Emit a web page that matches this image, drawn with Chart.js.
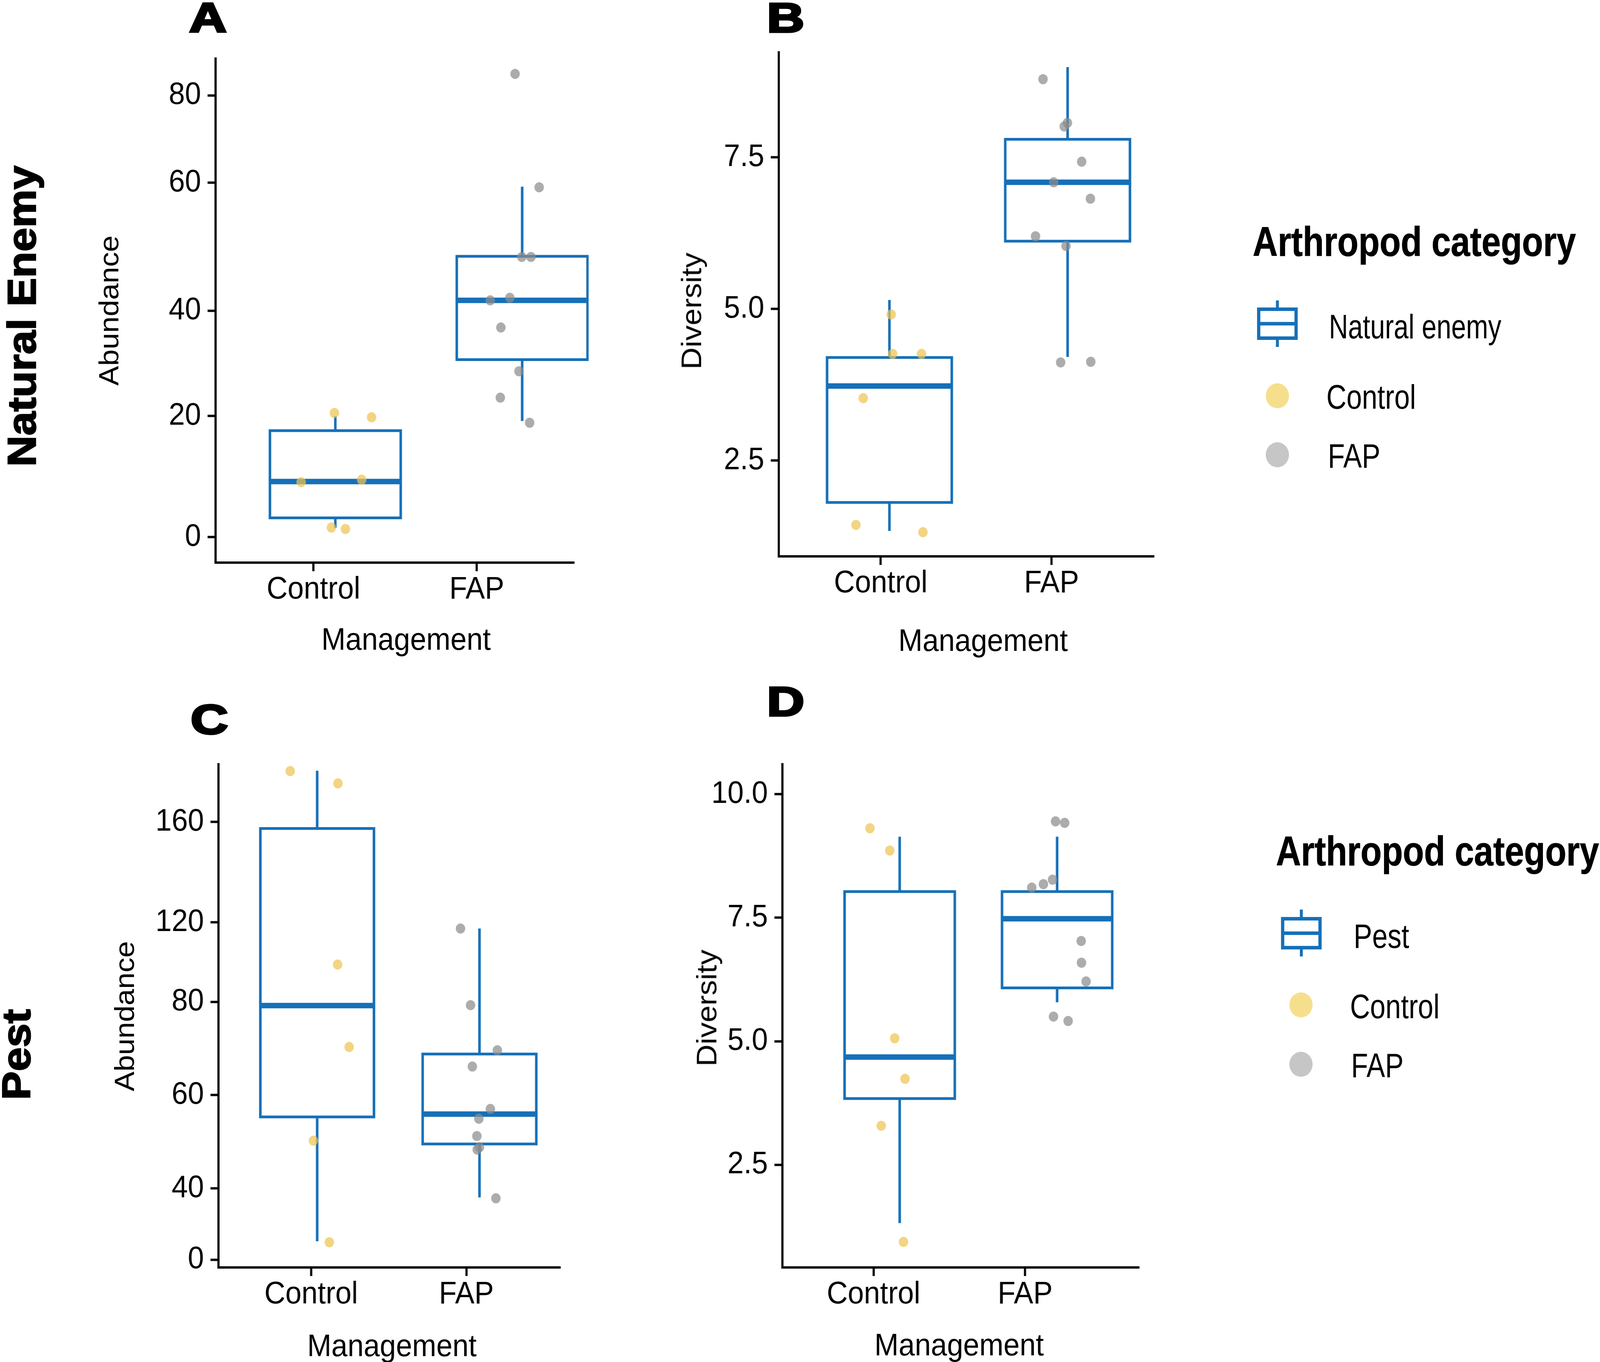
<!DOCTYPE html>
<html>
<head>
<meta charset="utf-8">
<script src="https://cdn.jsdelivr.net/npm/chart.js@4.4.1/dist/chart.umd.min.js"></script>
<style>
html, body { margin: 0; padding: 0; background: #fff; overflow: hidden; }
#fig { width: 4409px; height: 3486px; position: absolute; left: 0; top: 0; overflow: hidden;
       transform-origin: 0 0; font-family: "Liberation Sans", Arial, sans-serif; color: #000; background: #fff; }
canvas { position: absolute; }
.t { position: absolute; white-space: nowrap; line-height: 1; }
</style>
</head>
<body>
<div id="fig"></div>
<script>
// ---- data ----
const groups = ['Control', 'FAP'];

// box stats: [lower whisker, Q1, median, Q3, upper whisker]
// A: natural enemy abundance
const neAbundTicks = [0, 20, 40, 60, 80];
const neAbundCtrlBox = [1.55, 3.2, 9.2, 17.6, 20.0];
const neAbundFapBox = [19.2, 30.7, 41.6, 48.5, 59.4];
const neAbundCtrl = [20.6, 19.8, 9.1, 9.5, 1.6, 1.35];
const neAbundCtrlJit = [-0.005, 0.194, -0.183, 0.141, -0.021, 0.054];
const neAbundFap = [84.9, 59.3, 48.4, 48.4, 41.6, 42.0, 36.8, 28.5, 23.5, 18.9];
const neAbundFapJit = [-0.038, 0.091, -0.002, 0.047, -0.171, -0.066, -0.114, -0.017, -0.117, 0.040];

// B: natural enemy diversity
const neDivTicks = [2.5, 5.0, 7.5];
const neDivCtrlBox = [1.34, 1.81, 3.73, 4.20, 5.15];
const neDivFapBox = [4.21, 6.12, 7.09, 7.80, 8.99];
const neDivCtrl = [4.91, 4.26, 4.26, 3.53, 1.44, 1.32];
const neDivCtrlJit = [0.010, 0.018, 0.180, -0.147, -0.188, 0.188];
const neDivFap = [8.79, 8.07, 8.01, 7.43, 7.09, 6.82, 6.20, 6.04, 4.12, 4.13];
const neDivFapJit = [-0.138, -0.001, -0.019, 0.079, -0.078, 0.128, -0.180, -0.009, -0.039, 0.130];

// C: pest abundance
const pestAbundTicks = [0, 40, 60, 80, 120, 160];
const pestAbundCtrlBox = [10.3, 55.3, 79.2, 157.4, 180.4];
const pestAbundFapBox = [34.9, 49.5, 55.9, 68.8, 116.9];
const pestAbundCtrl = [180.3, 175.4, 98.8, 70.3, 50.2, 9.75];
const pestAbundCtrlJit = [-0.166, 0.128, 0.126, 0.197, -0.023, 0.075];
const pestAbundFap = [116.9, 79.3, 69.6, 66.1, 57.0, 54.9, 51.2, 48.8, 48.3, 34.4];
const pestAbundFapJit = [-0.117, -0.055, 0.110, -0.044, 0.067, -0.004, -0.016, 0.000, -0.014, 0.101];

// D: pest diversity
const pestDivTicks = [2.5, 5.0, 7.5, 10.0];
const pestDivCtrlBox = [1.32, 3.84, 4.68, 8.03, 9.14];
const pestDivFapBox = [5.79, 6.08, 7.48, 8.03, 9.14];
const pestDivCtrl = [9.31, 8.86, 5.06, 4.24, 3.29, 0.94];
const pestDivCtrlJit = [-0.189, -0.063, -0.032, 0.034, -0.117, 0.024];
const pestDivFap = [9.45, 9.42, 8.11, 8.18, 8.27, 7.03, 6.59, 6.21, 5.50, 5.41];
const pestDivFapJit = [-0.010, 0.048, -0.161, -0.087, -0.029, 0.153, 0.155, 0.184, -0.023, 0.070];

// ---- styles ----
const FONT = '"Liberation Sans", Arial, sans-serif';
const BLUE = '#1670B8';
const YELLOW = 'rgba(238,196,82,0.72)';
const GREY = 'rgba(140,140,140,0.72)';
const BOX_HALF = 0.35;
const fig = document.getElementById('fig');

// the window may be narrower than the 4409px figure: stretch the figure to fill it
fig.style.transform = 'scale(' + (window.innerWidth / 4409) + ',' + (window.innerHeight / 3486) + ')';

// the abundance axes in the original are unevenly spaced, so map value -> position piecewise
class SegmentScale extends Chart.LinearScale {
  static id = 'segment';
  _toDec(v) {
    const vs = this.options.knotValues, ds = this.options.knotDecimals;
    let i = 0;
    while (i < vs.length - 2 && v > vs[i + 1]) i++;
    return ds[i] + (v - vs[i]) * (ds[i + 1] - ds[i]) / (vs[i + 1] - vs[i]);
  }
  getPixelForValue(v) {
    if (v === null || v === undefined || isNaN(v)) return NaN;
    return this.getPixelForDecimal(this._toDec(v));
  }
  getValueForPixel(p) {
    const vs = this.options.knotValues, ds = this.options.knotDecimals;
    const d = this.getDecimalForPixel(p);
    let i = 0;
    while (i < ds.length - 2 && d > ds[i + 1]) i++;
    return vs[i] + (d - ds[i]) * (vs[i + 1] - vs[i]) / (ds[i + 1] - ds[i]);
  }
}
Chart.register(SegmentScale);

function seg(data, width, capStyle) {
  return {
    data, showLine: true, borderColor: BLUE, borderWidth: width,
    pointRadius: 0, pointHoverRadius: 0, fill: false, tension: 0,
    borderJoinStyle: 'miter', borderCapStyle: capStyle || 'butt',
    order: 2, clip: false
  };
}

function boxDatasets(xc, stats) {
  const [lo, q1, med, q3, hi] = stats;
  const h = BOX_HALF;
  return [
    seg([{x: xc, y: q3}, {x: xc, y: hi}], 7),
    seg([{x: xc, y: lo}, {x: xc, y: q1}], 7),
    seg([{x: xc - h, y: q1}, {x: xc + h, y: q1}, {x: xc + h, y: q3},
         {x: xc - h, y: q3}, {x: xc - h, y: q1}], 7, 'square'),
    seg([{x: xc - h, y: med}, {x: xc + h, y: med}], 14)
  ];
}

function pointSet(xc, vals, jit, color) {
  return {
    data: vals.map((v, i) => ({x: xc + jit[i], y: v})),
    showLine: false, pointRadius: 13, pointHoverRadius: 13,
    backgroundColor: color, borderWidth: 0, order: 1, clip: false
  };
}

function axisCommon() {
  return {
    border: {display: true, color: '#000', width: 6},
    grid: {display: true, drawOnChartArea: false, drawTicks: true,
           tickLength: 22, tickWidth: 6, tickColor: '#000', color: '#000'},
  };
}

function drawPanel(p) {
  const padT = 70, padR = 40, yW = 200, xH = 170;
  const [L, T, R, B] = p.area;
  const left = L - yW, top = T - padT;
  const w = R + padR - left, h = B + xH - top;
  const cv = document.createElement('canvas');
  cv.width = w; cv.height = h;
  cv.style.left = left + 'px'; cv.style.top = top + 'px';
  cv.style.width = w + 'px'; cv.style.height = h + 'px';
  fig.appendChild(cv);

  const datasets = [
    pointSet(1, p.ctrlVals, p.ctrlJit, YELLOW),
    pointSet(2, p.fapVals, p.fapJit, GREY),
    ...boxDatasets(1, p.ctrlBox),
    ...boxDatasets(2, p.fapBox)
  ];

  const yScale = Object.assign(axisCommon(), {
    type: p.yType, min: p.yMin, max: p.yMax,
    afterFit: s => { s.width = yW; },
    afterBuildTicks: s => { s.ticks = p.yTicks.map(v => ({value: v})); },
    ticks: {color: '#000', padding: 18, autoSkip: false,
            font: {family: FONT, size: 80},
            callback: v => p.yFmt(v)}
  });
  if (p.knotValues) {
    yScale.knotValues = p.knotValues;
    yScale.knotDecimals = p.knotDecimals;
  }

  const xScale = Object.assign(axisCommon(), {
    type: 'linear', min: p.xMin, max: p.xMax,
    afterFit: s => { s.height = xH; },
    afterBuildTicks: s => { s.ticks = p.xTicks.map(v => ({value: v})); },
    ticks: {color: '#000', padding: 0, autoSkip: false, maxRotation: 0,
            font: {family: FONT, size: 80},
            callback: (v, i) => groups[i]}
  });

  new Chart(cv, {
    type: 'scatter',
    data: {datasets},
    options: {
      responsive: false, animation: false, devicePixelRatio: 1,
      layout: {padding: {top: padT, right: padR, left: 0, bottom: 0}},
      plugins: {legend: {display: false}, tooltip: {enabled: false}},
      events: [],
      scales: {x: xScale, y: yScale}
    }
  });
}

const intFmt = v => String(Math.round(v));
const decFmt = v => v.toFixed(1);

drawPanel({
  area: [594, 150, 1582, 1440], xMin: 0.359, xMax: 2.278, xTicks: [0.883, 1.757],
  yType: 'segment', yMin: -4.19, yMax: 88.4, yTicks: neAbundTicks, yFmt: intFmt,
  knotValues: [0, 20, 40, 60, 80], knotDecimals: [0.0504, 0.2907, 0.5, 0.7535, 0.9271],
  ctrlBox: neAbundCtrlBox, fapBox: neAbundFapBox,
  ctrlVals: neAbundCtrl, ctrlJit: neAbundCtrlJit, fapVals: neAbundFap, fapJit: neAbundFapJit
});
drawPanel({
  area: [2146, 134, 3180, 1424], xMin: 0.379, xMax: 2.485, xTicks: [0.951, 1.910],
  yType: 'linear', yMin: 0.921, yMax: 9.233, yTicks: neDivTicks, yFmt: decFmt,
  ctrlBox: neDivCtrlBox, fapBox: neDivFapBox,
  ctrlVals: neDivCtrl, ctrlJit: neDivCtrlJit, fapVals: neDivFap, fapJit: neDivFapJit
});
drawPanel({
  area: [602, 1956, 1544, 3244], xMin: 0.392, xMax: 2.498, xTicks: [0.963, 1.919],
  yType: 'segment', yMin: -4.4, yMax: 183.0, yTicks: pestAbundTicks, yFmt: intFmt,
  knotValues: [0, 40, 60, 80, 120, 160],
  knotDecimals: [0.0155, 0.1572, 0.3428, 0.5277, 0.6857, 0.8852],
  ctrlBox: pestAbundCtrlBox, fapBox: pestAbundFapBox,
  ctrlVals: pestAbundCtrl, ctrlJit: pestAbundCtrlJit, fapVals: pestAbundFap, fapJit: pestAbundFapJit
});
drawPanel({
  area: [2156, 1956, 3139, 3244], xMin: 0.255, xMax: 2.521, xTicks: [0.834, 1.797],
  yType: 'linear', yMin: 0.423, yMax: 10.607, yTicks: pestDivTicks, yFmt: decFmt,
  ctrlBox: pestDivCtrlBox, fapBox: pestDivFapBox,
  ctrlVals: pestDivCtrl, ctrlJit: pestDivCtrlJit, fapVals: pestDivFap, fapJit: pestDivFapJit
});

// ---- text around the panels ----
function text(str, x, y, size, opts) {
  opts = opts || {};
  const d = document.createElement('div');
  d.className = 't';
  d.textContent = str;
  d.style.left = x + 'px';
  d.style.top = y + 'px';
  d.style.fontSize = size + 'px';
  d.style.fontWeight = opts.bold ? 'bold' : 'normal';
  if (opts.stroke) d.style.webkitTextStroke = opts.stroke + 'px #000';
  d.style.transformOrigin = opts.origin || '50% 50%';
  d.style.transform = opts.tf || 'translate(-50%,-50%)';
  fig.appendChild(d);
  return d;
}
const ROT = 'translate(-50%,-50%) rotate(-90deg)';

text('Natural Enemy', 60, 809, 110, {bold: true, stroke: 3, tf: ROT});
text('Pest', 45, 2699, 110, {bold: true, stroke: 3, tf: ROT});

const WIDE = 'translate(-50%,-50%) scaleX(1.35)';
text('A', 573, 45, 106, {bold: true, stroke: 5, tf: WIDE});
text('B', 2165, 45, 106, {bold: true, stroke: 5, tf: WIDE});
text('C', 577, 1841, 106, {bold: true, stroke: 5, tf: WIDE});
text('D', 2165, 1795, 106, {bold: true, stroke: 5, tf: WIDE});

text('Abundance', 300, 795, 76, {tf: ROT});
text('Diversity', 1905, 796, 78, {tf: ROT});
text('Abundance', 343, 2601, 76, {tf: ROT});
text('Diversity', 1947, 2580, 78, {tf: ROT});

text('Management', 1119, 1636, 80);
text('Management', 2709, 1639, 80);
text('Management', 1080, 3444, 80);
text('Management', 2643, 3442, 80);

// ---- legends ----
const LEFT_NARROW = s => 'translate(0,-50%) scaleX(' + s + ')';
function boxGlyph(cx, boxTop, boxBot, wTop, wBot, half) {
  const ns = 'http://www.w3.org/2000/svg';
  const svg = document.createElementNS(ns, 'svg');
  const x0 = cx - half - 10, y0 = wTop;
  const W = 2 * half + 20, H = wBot - wTop;
  svg.setAttribute('width', W); svg.setAttribute('height', H);
  svg.style.position = 'absolute';
  svg.style.left = x0 + 'px'; svg.style.top = y0 + 'px';
  const sw = 9, c = cx - x0, mid = (boxTop + boxBot) / 2 - y0;
  const add = (tag, attrs) => {
    const e = document.createElementNS(ns, tag);
    for (const k in attrs) e.setAttribute(k, attrs[k]);
    svg.appendChild(e);
  };
  add('line', {x1: c, y1: 0, x2: c, y2: boxTop - y0, stroke: BLUE, 'stroke-width': 8});
  add('line', {x1: c, y1: boxBot - y0, x2: c, y2: H, stroke: BLUE, 'stroke-width': 8});
  add('rect', {x: c - half + sw / 2, y: boxTop - y0 + sw / 2, width: 2 * half - sw,
               height: boxBot - boxTop - sw, fill: '#fff', stroke: BLUE, 'stroke-width': sw});
  add('line', {x1: c - half + sw / 2, y1: mid, x2: c + half - sw / 2, y2: mid,
               stroke: BLUE, 'stroke-width': sw});
  fig.appendChild(svg);
}
function dot(cx, cy, r, color) {
  const d = document.createElement('div');
  d.style.cssText = 'position:absolute;border-radius:50%;left:' + (cx - r) + 'px;top:' +
    (cy - r) + 'px;width:' + (2 * r) + 'px;height:' + (2 * r) + 'px;background:' + color;
  fig.appendChild(d);
}

// legend 1 (natural enemy row)
text('Arthropod category', 3452, 618, 106, {bold: true, stroke: 1, origin: 'left center', tf: LEFT_NARROW(0.9)});
boxGlyph(3520, 787, 870, 769, 888, 56);
text('Natural enemy', 3662, 835, 87, {origin: 'left center', tf: LEFT_NARROW(0.84)});
dot(3520, 1013, 32, '#F6DF8C');
text('Control', 3655, 1015, 87, {origin: 'left center', tf: LEFT_NARROW(0.88)});
dot(3520, 1164, 32, '#C6C6C6');
text('FAP', 3659, 1166, 87, {origin: 'left center', tf: LEFT_NARROW(0.88)});

// legend 2 (pest row)
text('Arthropod category', 3516, 2178, 106, {bold: true, stroke: 1, origin: 'left center', tf: LEFT_NARROW(0.9)});
boxGlyph(3586, 2347, 2430, 2328, 2448, 56);
text('Pest', 3730, 2395, 87, {origin: 'left center', tf: LEFT_NARROW(0.88)});
dot(3585, 2572, 32, '#F6DF8C');
text('Control', 3720, 2575, 87, {origin: 'left center', tf: LEFT_NARROW(0.88)});
dot(3585, 2724, 32, '#C6C6C6');
text('FAP', 3723, 2726, 87, {origin: 'left center', tf: LEFT_NARROW(0.88)});
</script>
</body>
</html>
